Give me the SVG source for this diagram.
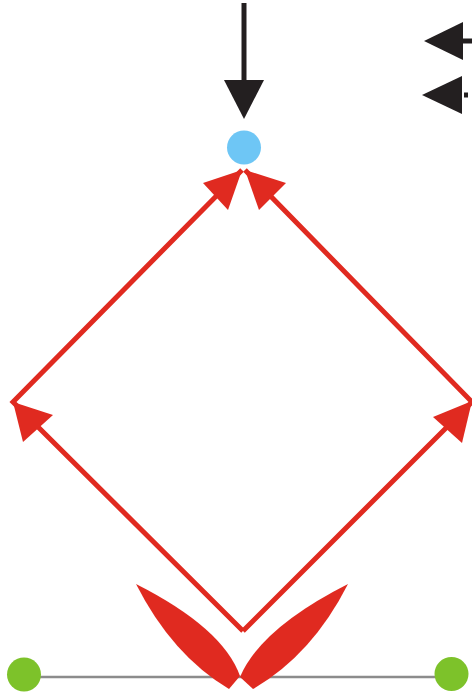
<svg xmlns="http://www.w3.org/2000/svg" width="472" height="692" viewBox="0 0 472 692">
  <style>
    .red-line { fill: none; stroke: #e02a20; stroke-width: 5; stroke-linejoin: miter; stroke-miterlimit: 10; }
    .red-head { fill: #e02a20; }
    .black-line { fill: none; stroke: #231f20; stroke-width: 5; }
    .black-head { fill: #231f20; }
    .gray-line { stroke: #8c8c8c; stroke-width: 2.5; }
    .leaf { fill: #e02a20; }
  </style>
  <rect width="472" height="692" fill="#ffffff"/>
  <g id="connectors">
    <!-- top black arrow -->
    <line class="black-line" x1="244" y1="3" x2="244" y2="84"/>
    <polygon class="black-head" points="224,80 264,80 244,119"/>
    <!-- legend arrows top right -->
    <line class="black-line" x1="460" y1="41" x2="472" y2="41"/>
    <polygon class="black-head" points="424,41 463,22 463,60"/>
    <line class="black-line" x1="464" y1="95" x2="468" y2="95" stroke-width="4"/>
    <polygon class="black-head" points="422,95 462,76 462,114"/>
    <!-- red diamond -->
    <polyline class="red-line" points="243,631 13,402 242,170"/>
    <polyline class="red-line" points="243,631 472,402 245,170"/>
    <polygon class="red-head" points="13,402 53,415 23,442"/>
    <polygon class="red-head" points="242,170 203,183 228,210"/>
    <polygon class="red-head" points="245,170 286,183 259,210"/>
    <polygon class="red-head" points="472,401 433,417 462,443"/>
    <!-- gray base line -->
    <line class="gray-line" x1="40" y1="677" x2="436" y2="677"/>
  </g>
  <g id="node-top">
    <circle cx="244" cy="147.5" r="17" fill="#6ec6f5"/>
  </g>
  <g id="node-left">
    <circle cx="24" cy="674.5" r="17" fill="#7dc22a"/>
  </g>
  <g id="node-right">
    <circle cx="451.5" cy="674" r="17" fill="#7dc22a"/>
  </g>
  <g id="leaf-left">
    <path class="leaf" d="M136,584 Q223,628 240,676 L229,689 Q172,655 136,584 Z"/>
  </g>
  <g id="leaf-right">
    <path class="leaf" d="M348,584 Q261,628 240,677 L253,689 Q312,655 348,584 Z"/>
  </g>
</svg>
